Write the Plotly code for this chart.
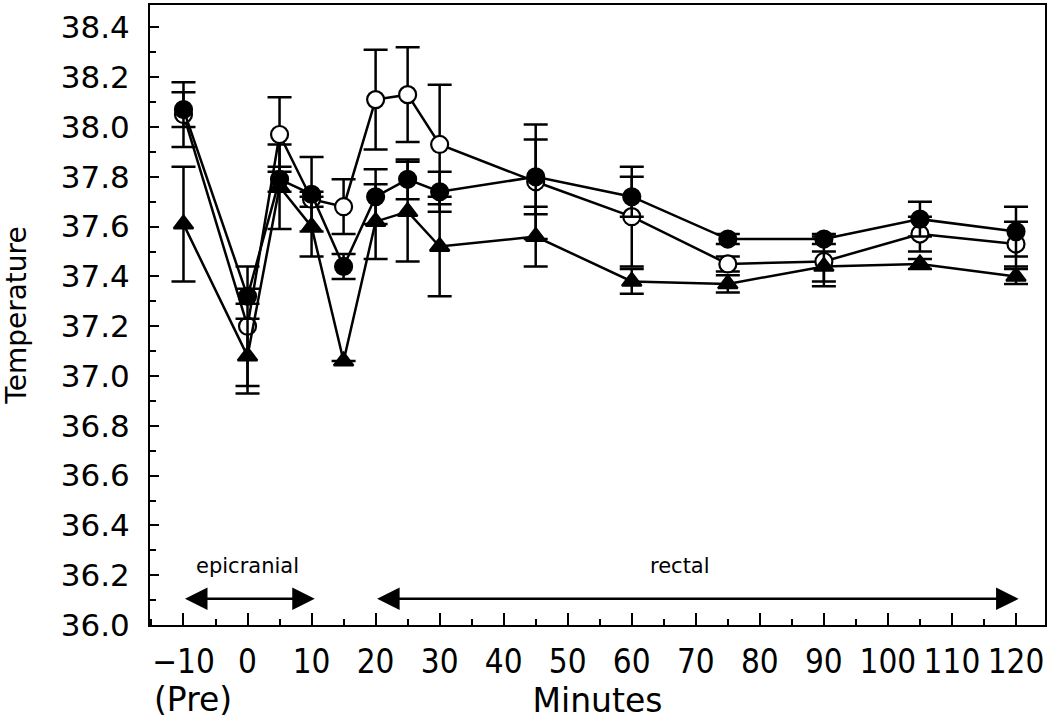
import plotly.graph_objects as go

# sampling times (minutes); -10 is the "Pre" reading
minutes = [-10, 0, 5, 10, 15, 20, 25, 30, 45, 60, 75, 90, 105, 120]

# filled circles
temp_filled = [38.07, 37.32, 37.79, 37.73, 37.44, 37.72, 37.79, 37.74, 37.80, 37.72, 37.55, 37.55, 37.63, 37.58]
err_filled = [0.07, 0.03, 0.05, 0.15, 0.05, 0.11, 0.08, 0.08, 0.15, 0.08, 0.02, 0.02, 0.07, 0.10]

# open circles
temp_open = [38.05, 37.20, 37.97, 37.71, 37.68, 38.11, 38.13, 37.93, 37.78, 37.64, 37.45, 37.46, 37.57, 37.53]
err_open = [0.13, 0.24, 0.15, 0.03, 0.11, 0.20, 0.19, 0.24, 0.23, 0.20, 0.03, 0.10, 0.07, 0.09]

# filled triangles
temp_tri = [37.61, 37.08, 37.76, 37.60, 37.06, 37.62, 37.66, 37.52, 37.56, 37.38, 37.37, 37.44, 37.45, 37.40]
err_tri = [0.23, 0.15, 0.17, 0.12, 0.0, 0.15, 0.20, 0.20, 0.12, 0.05, 0.035, 0.06, 0.02, 0.03]

x_ticks = [-10, 0, 10, 20, 30, 40, 50, 60, 70, 80, 90, 100, 110, 120]
x_labels = ["\u221210", "0", "10", "20", "30", "40", "50", "60", "70", "80", "90", "100", "110", "120"]
y_ticks = [36.0, 36.2, 36.4, 36.6, 36.8, 37.0, 37.2, 37.4, 37.6, 37.8, 38.0, 38.2, 38.4]

cond = "DejaVu Sans Condensed, Liberation Sans Narrow, DejaVu Sans"


def series(y, err, symbol, fill, size):
    return go.Scatter(
        x=minutes, y=y, mode="lines+markers",
        line=dict(color="black", width=2.5),
        marker=dict(symbol=symbol, size=size, color=fill, line=dict(color="black", width=2.2)),
        error_y=dict(type="data", array=err, visible=True, color="black", thickness=2.5, width=12),
        showlegend=False,
    )


fig = go.Figure()
fig.add_trace(series(temp_open, err_open, "circle", "white", 17))
fig.add_trace(series(temp_tri, err_tri, "triangle-up", "black", 17))
fig.add_trace(series(temp_filled, err_filled, "circle", "black", 17))

arrow = dict(xref="x", yref="y", axref="x", ayref="y", text="", showarrow=True,
             arrowhead=2, startarrowhead=2, arrowside="end+start",
             arrowsize=1.8, startarrowsize=1.8, arrowwidth=2.5, arrowcolor="black")
fig.add_annotation(x=10.5, y=36.105, ax=-10, ay=36.105, **arrow)
fig.add_annotation(x=120.4, y=36.105, ax=20, ay=36.105, **arrow)

fig.add_annotation(x=0, y=36.235, xref="x", yref="y", text="epicranial", showarrow=False,
                   font=dict(family="DejaVu Sans", size=21, color="black"))
fig.add_annotation(x=67.5, y=36.235, xref="x", yref="y", text="rectal", showarrow=False,
                   font=dict(family="DejaVu Sans", size=21, color="black"))
fig.add_annotation(x=-8.5, y=-0.12, xref="x", yref="paper", text="(Pre)", showarrow=False,
                   yanchor="middle", font=dict(family="DejaVu Sans", size=33, color="black"))

fig.update_layout(
    width=1050, height=720,
    margin=dict(l=150, r=5, t=5, b=95),
    paper_bgcolor="white", plot_bgcolor="white",
    font=dict(color="black"),
    xaxis=dict(
        range=[-15.23, 124.53], tickvals=x_ticks, ticktext=x_labels,
        ticks="inside", ticklen=12, tickwidth=2, tickcolor="black",
        minor=dict(dtick=5, tick0=0, ticks="inside", ticklen=6, tickwidth=2, tickcolor="black"),
        showline=True, linecolor="black", linewidth=2, mirror=True,
        showgrid=False, zeroline=False, automargin=False,
        tickfont=dict(family=cond, size=33), ticklabelstandoff=6,
        title=dict(text="Minutes", font=dict(family="DejaVu Sans", size=33), standoff=4),
    ),
    yaxis=dict(
        range=[36.0, 38.49], tickvals=y_ticks, ticktext=[f"{t:.1f}" for t in y_ticks],
        ticks="inside", ticklen=9, tickwidth=2, tickcolor="black",
        minor=dict(dtick=0.1, tick0=36.0, ticks="inside", ticklen=6, tickwidth=2, tickcolor="black"),
        showline=True, linecolor="black", linewidth=2, mirror=True,
        showgrid=False, zeroline=False, automargin=False,
        tickfont=dict(family="DejaVu Sans", size=31), ticklabelstandoff=12,
        title=dict(text="Temperature", font=dict(family="DejaVu Sans", size=28), standoff=36),
    ),
)

fig.write_html("out.html", config={"displayModeBar": False},
               post_script="document.body.style.margin='0px';")
